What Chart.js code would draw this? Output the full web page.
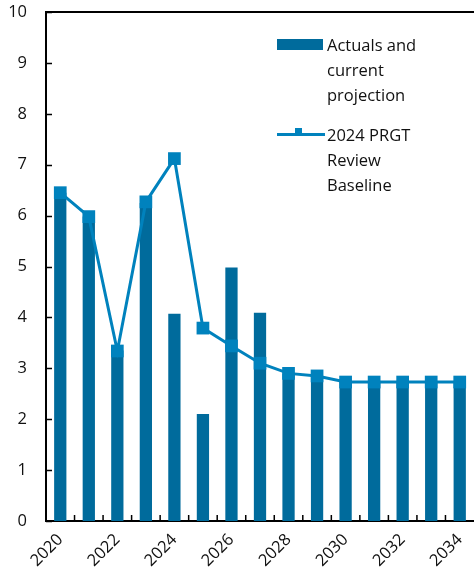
<!DOCTYPE html>
<html>
<head>
<meta charset="utf-8">
<script src="https://cdn.jsdelivr.net/npm/chart.js@4.4.1/dist/chart.umd.min.js"></script>
<style>
  html, body { margin: 0; padding: 0; background: #ffffff; }
  #wrap { position: relative; width: 474px; height: 581px; }
  #chart { position: absolute; left: 0; top: 0; }
  #legend { position: absolute; left: 277px; top: 32px; font-family: "Open Sans", sans-serif; font-size: 16.5px; color: #111; }
  .item { position: relative; padding-left: 50px; line-height: 25px; }
  .item + .item { margin-top: 15px; }
  .sw { position: absolute; left: 0; }
</style>
</head>
<body>
<div id="wrap">
  <canvas id="chart" width="474" height="581"></canvas>
  <div id="legend"></div>
</div>
<script>
// Categories and series
const years = ['2020', '2021', '2022', '2023', '2024', '2025', '2026', '2027', '2028', '2029', '2030', '2031', '2032', '2033', '2034'];
const actualsLabel = ['Actuals and', 'current', 'projection'];
const baselineLabel = ['2024 PRGT', 'Review', 'Baseline'];
const actuals = [6.45, 5.98, 3.35, 6.25, 4.07, 2.10, 4.98, 4.09, 2.90, 2.85, 2.73, 2.73, 2.73, 2.73, 2.73];
const baseline = [6.45, 5.98, 3.34, 6.27, 7.12, 3.79, 3.44, 3.10, 2.90, 2.85, 2.73, 2.73, 2.73, 2.73, 2.73];
const yTicks = [0, 1, 2, 3, 4, 5, 6, 7, 8, 9, 10];

const barColor = '#006b9c';
const lineColor = '#0082bd';

// Short inward tick marks on both axes
const innerTicks = {
  id: 'innerTicks',
  afterDraw(chart) {
    const { ctx, chartArea, scales } = chart;
    ctx.save();
    ctx.strokeStyle = '#000';
    ctx.lineWidth = 1.5;
    ctx.beginPath();
    scales.y.ticks.forEach((t) => {
      const py = Math.round(scales.y.getPixelForValue(t.value)) + 0.5;
      ctx.moveTo(chartArea.left, py);
      ctx.lineTo(chartArea.left + 6, py);
    });
    for (let i = 0; i < years.length - 1; i++) {
      const px = (scales.x.getPixelForValue(i) + scales.x.getPixelForValue(i + 1)) / 2;
      ctx.moveTo(px, chartArea.bottom);
      ctx.lineTo(px, chartArea.bottom - 6);
    }
    ctx.stroke();
    ctx.restore();
  }
};

const chart = new Chart(document.getElementById('chart'), {
  type: 'bar',
  data: {
    labels: years,
    datasets: [
      {
        type: 'bar',
        label: actualsLabel.join(' '),
        data: actuals,
        backgroundColor: barColor,
        borderWidth: 0,
        categoryPercentage: 1,
        barPercentage: 0.43,
        order: 1
      },
      {
        type: 'line',
        label: baselineLabel.join(' '),
        data: baseline,
        borderColor: lineColor,
        backgroundColor: lineColor,
        borderWidth: 3,
        pointStyle: 'rect',
        pointRadius: 9,
        pointBorderWidth: 0,
        pointBackgroundColor: lineColor,
        tension: 0,
        clip: false,
        order: 0
      }
    ]
  },
  plugins: [innerTicks],
  options: {
    responsive: false,
    animation: false,
    devicePixelRatio: 1,
    layout: { padding: 0, autoPadding: false },
    plugins: {
      legend: { display: false },
      tooltip: { enabled: false }
    },
    scales: {
      x: {
        offset: true,
        grid: { display: false, drawTicks: false },
        border: { display: true, color: '#000', width: 2 },
        ticks: {
          autoSkip: false,
          maxRotation: 45,
          minRotation: 45,
          padding: 9,
          color: '#111',
          font: { family: 'Open Sans', size: 16.5 },
          callback: (v, i) => (i % 2 === 0 ? years[i] : '')
        },
        afterFit: (s) => { s.height = 60; s.paddingLeft = 0; s.paddingRight = 0; }
      },
      y: {
        min: 0,
        max: 10,
        afterBuildTicks: (s) => { s.ticks = yTicks.map((v) => ({ value: v })); },
        grid: {
          drawTicks: false,
          color: (c) => (c.tick && c.tick.value === 10 ? '#000' : 'rgba(0,0,0,0)'),
          lineWidth: (c) => (c.tick && c.tick.value === 10 ? 2 : 0)
        },
        border: { display: true, color: '#000', width: 2 },
        ticks: {
          padding: 19,
          color: '#111',
          font: { family: 'Open Sans', size: 16.5 }
        },
        afterFit: (s) => { s.width = 46; s.paddingTop = 12; s.paddingBottom = 0; }
      }
    }
  }
});

// Legend built from the chart's datasets
const legend = document.getElementById('legend');
const lines = [actualsLabel, baselineLabel];
chart.data.datasets.forEach((ds, i) => {
  const item = document.createElement('div');
  item.className = 'item';
  item.innerHTML = lines[i].join('<br>');
  const sw = document.createElement('div');
  sw.className = 'sw';
  if (ds.type === 'bar') {
    sw.style.cssText = 'left:0;top:7px;width:46px;height:11px;background:' + ds.backgroundColor;
    item.appendChild(sw);
  } else {
    sw.style.cssText = 'left:0;top:11px;width:48px;height:3px;background:' + ds.borderColor;
    const mk = document.createElement('div');
    mk.className = 'sw';
    mk.style.cssText = 'left:18px;top:6px;width:7px;height:7px;background:' + ds.borderColor;
    item.appendChild(sw);
    item.appendChild(mk);
  }
  legend.appendChild(item);
});
</script>
</body>
</html>
